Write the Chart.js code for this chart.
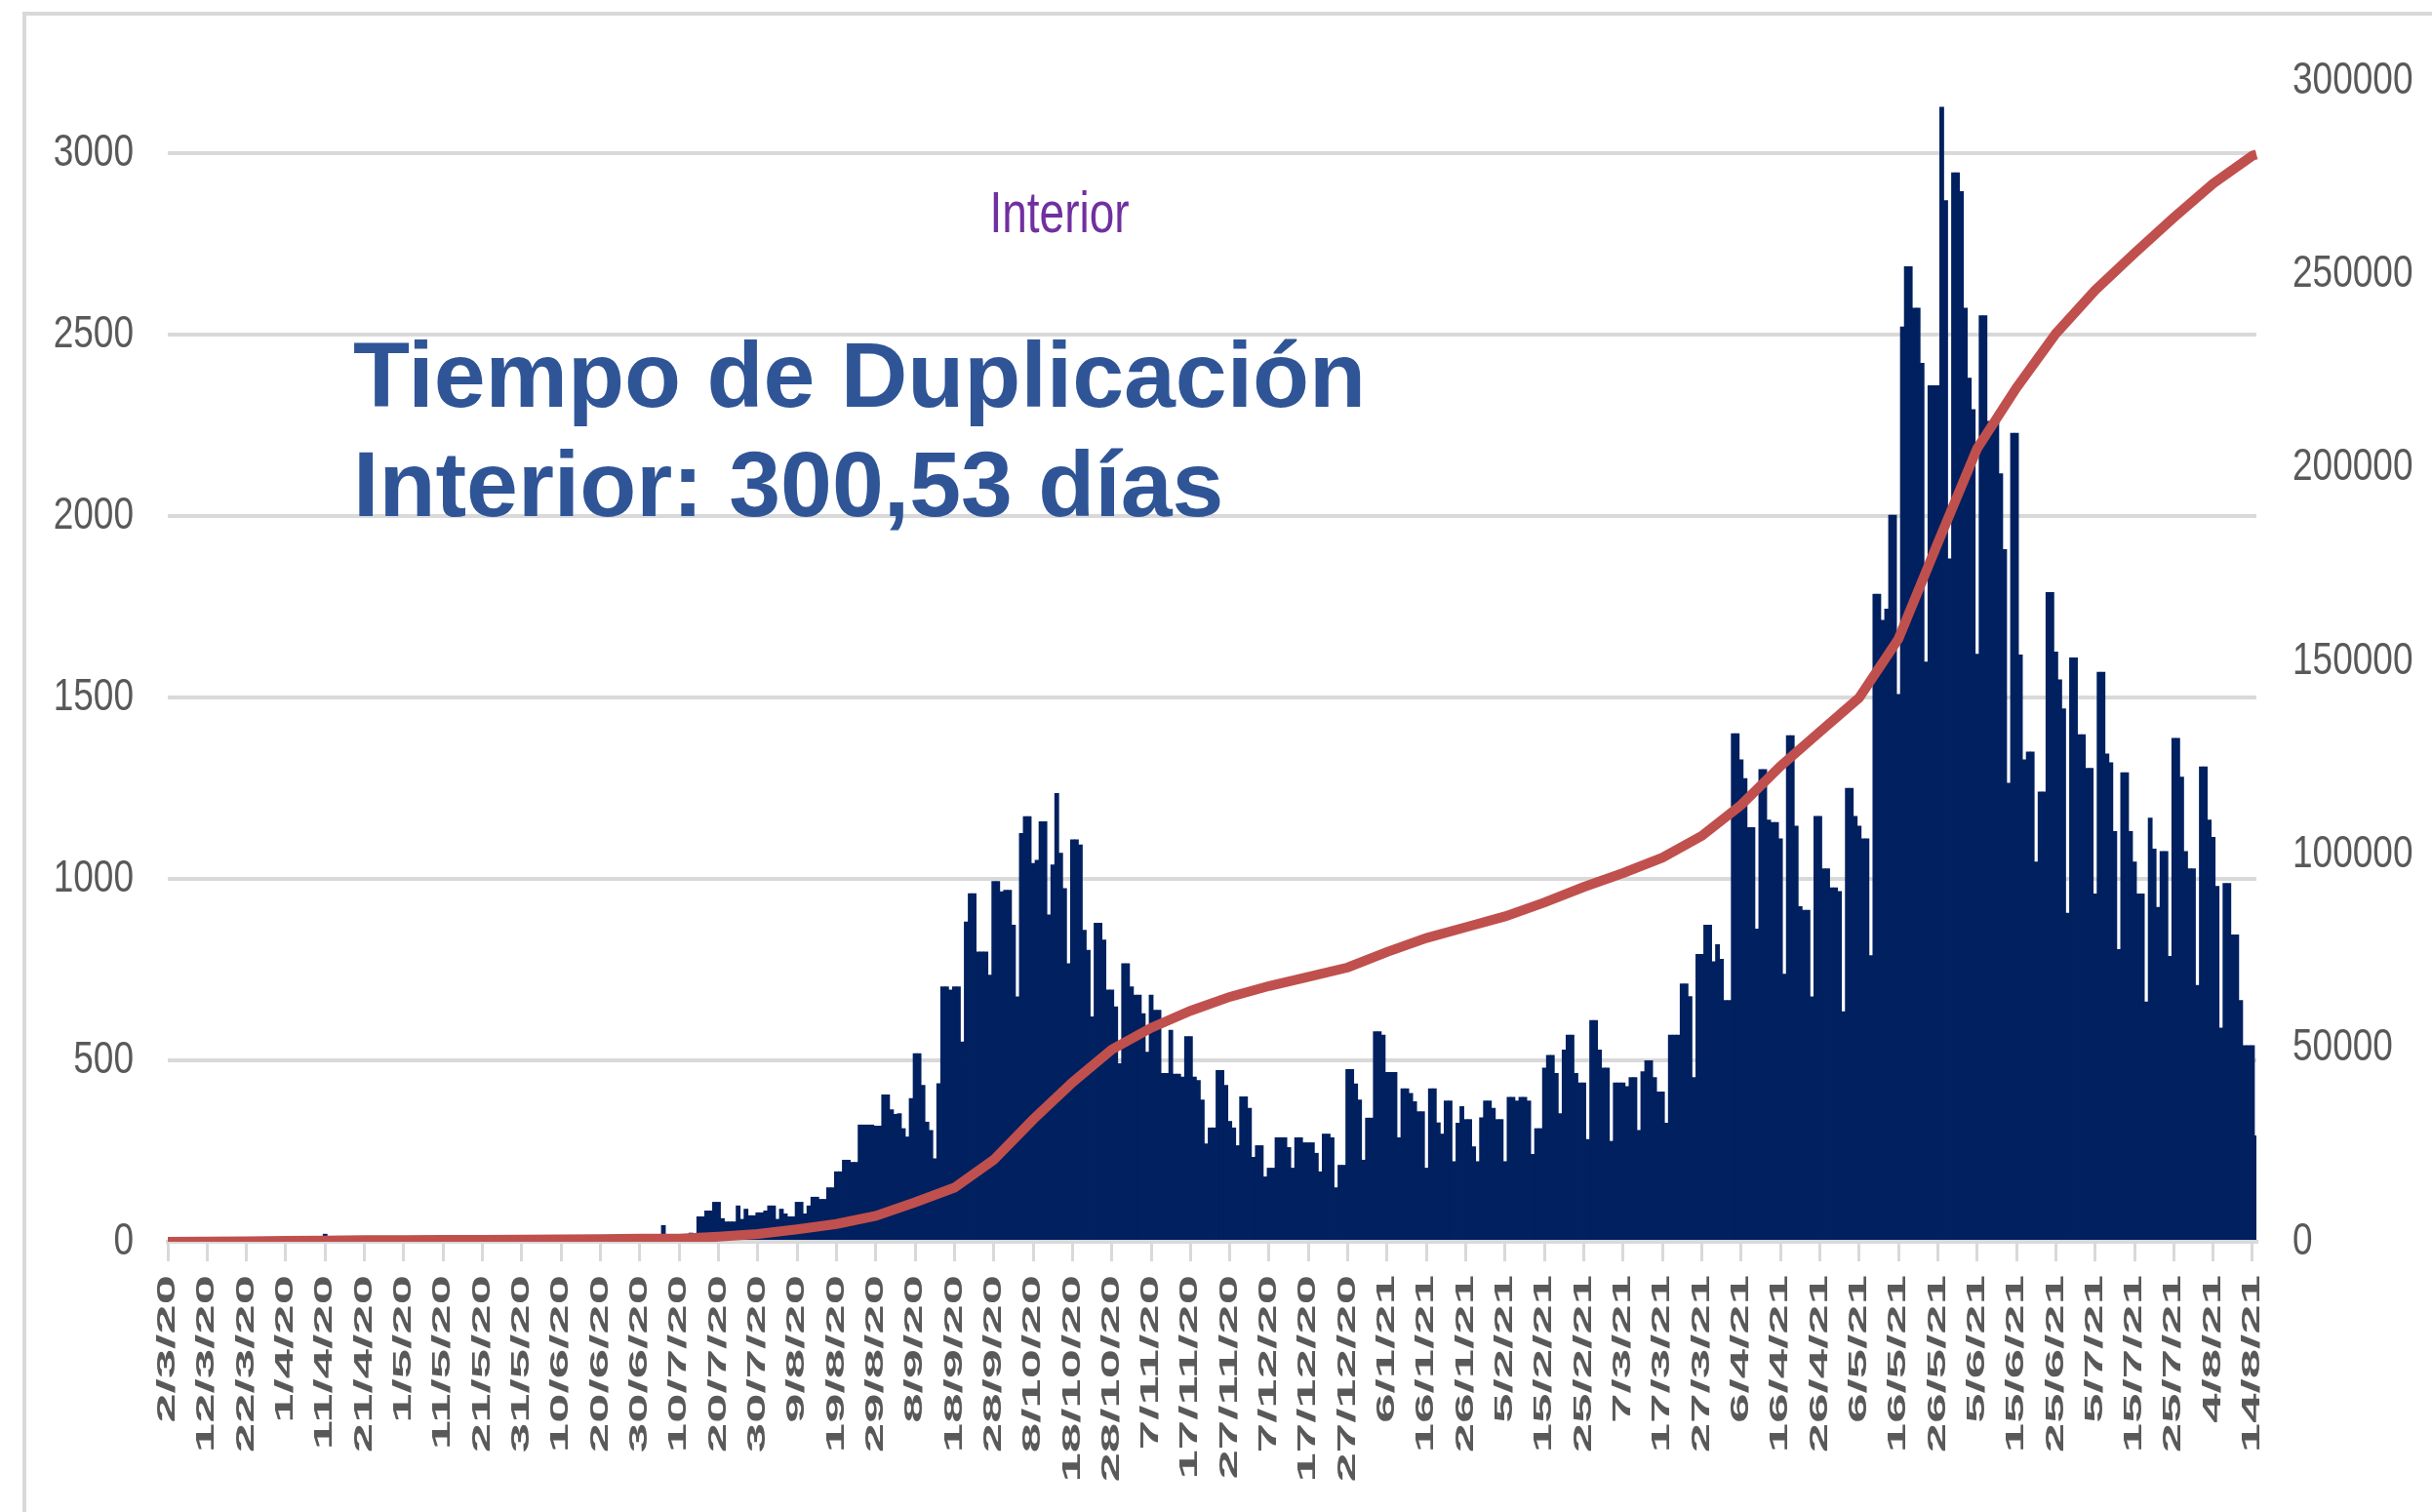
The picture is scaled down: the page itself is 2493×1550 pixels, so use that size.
<!DOCTYPE html>
<html>
<head>
<meta charset="utf-8">
<script src="https://cdn.jsdelivr.net/npm/chart.js@4.4.1/dist/chart.umd.min.js"></script>
<style>
  html, body { margin: 0; padding: 0; background: #ffffff; }
  #wrap { width: 2493px; height: 1550px; position: relative; overflow: hidden; }
</style>
</head>
<body>
<div id="wrap"><canvas id="chart" width="2493" height="1550"></canvas></div>
<script>
    // Daily new cases (one value per day, starting 2/3/20)
    const casesMarJul2020 = [
        0, 0, 1, 0, 2, 1, 3, 2, 4, 3,
        5, 4, 6, 8, 5, 7, 9, 6, 8, 10,
        7, 9, 12, 8, 10, 6, 11, 9, 7, 10,
        8, 6, 9, 12, 7, 10, 8, 11, 9, 13,
        22, 8, 6, 9, 7, 5, 8, 6, 4, 7,
        5, 3, 6, 4, 2, 5, 3, 4, 2, 3,
        2, 4, 1, 3, 2, 1, 3, 2, 1, 2,
        1, 2, 3, 1, 2, 1, 0, 2, 1, 1,
        2, 1, 3, 2, 4, 2, 3, 5, 3, 4,
        4, 6, 3, 5, 7, 4, 6, 8, 5, 9,
        7, 10, 8, 6, 12, 9, 11, 14, 8, 10,
        12, 9, 14, 11, 8, 15, 12, 10, 13, 16,
        14, 11, 9, 15, 12, 18
    ];
    const casesJulSep2020 = [
        46, 8, 12, 6, 10, 14, 9, 25, 22, 70,
        70, 86, 86, 110, 110, 65, 56, 56, 56, 100,
        63, 91, 73, 73, 81, 81, 86, 100, 100, 63,
        91, 78, 70, 70, 110, 110, 78, 100, 124, 124,
        118, 118, 150, 150, 194, 194, 226, 226, 220, 220,
        323, 323, 323, 323, 320, 320, 406, 406, 365, 352
    ];
    const casesSepNov2020 = [
        354, 313, 290, 396, 520, 520, 432, 331, 308, 230,
        437, 704, 704, 695, 704, 704, 552, 883, 961, 961,
        800, 800, 800, 736, 994, 994, 966, 970, 970, 874,
        676, 1127, 1173, 1173, 1044, 1053, 1159, 1159, 902, 1040,
        1237, 1072, 975, 768, 1109, 1109, 1095, 860, 805, 621,
        879, 879, 833, 695, 695, 649, 492, 768, 768, 704,
        681, 681, 630, 524, 681, 639, 639, 465, 465
    ];
    const casesNovJan2021 = [
        584, 463, 463, 455, 567, 567, 455, 446, 392, 271,
        315, 315, 473, 473, 432, 333, 315, 266, 401, 401,
        369, 234, 266, 266, 180, 204, 204, 288, 288, 288,
        261, 204, 288, 288, 274, 274, 274, 245, 194, 298,
        298, 288, 150, 212, 212, 476, 476, 436, 392, 226,
        342, 342, 580, 580, 571, 468, 468, 468, 288, 423,
        423, 410, 387, 360, 360, 204, 423, 423, 329
    ];
    const casesJanMar2021 = [
        298, 389, 389, 222, 328, 374, 338, 338, 263, 222,
        343, 389, 389, 369, 338, 338, 222, 399, 399, 389,
        399, 399, 389, 242, 313, 313, 480, 515, 515, 465,
        354, 530, 571, 571, 465, 439, 439, 283, 611, 611,
        530, 480, 480, 278, 439, 439, 439, 429, 454, 454,
        308, 470, 500, 500, 454, 414, 414, 328, 571, 571,
        571, 712, 712, 677, 454, 793, 793, 874, 874, 773
    ];
    const casesAprMay2021 = [
        820, 780, 666, 666, 1402, 1402, 1330, 1278, 1143, 1143,
        863, 1303, 1303, 1164, 1157, 1157, 1112, 739, 1396, 1396,
        1147, 925, 915, 915, 676, 1174, 1174, 1029, 1029, 977,
        977, 967, 635, 1251, 1251, 1174, 1147, 1112, 1112, 790,
        1786, 1786, 1714, 1745, 2004, 2004, 1510, 2523, 2689, 2689,
        2575, 2575, 2423, 1599, 2361, 2361, 2361, 3129, 2871, 1884,
        2948, 2948, 2896, 2575, 2382, 2295, 1621, 2554, 2554, 2263
    ];
    const casesJunAug2021 = [
        2262, 2262, 2118, 1909, 1265, 2230, 2230, 1619, 1330, 1351,
        1351, 1048, 1241, 1241, 1791, 1791, 1627, 1550, 1470, 907,
        1611, 1611, 1399, 1399, 1306, 1306, 960, 1571, 1571, 1346,
        1322, 1132, 807, 1294, 1294, 1132, 1048, 960, 960, 662,
        1169, 1084, 923, 1077, 1077, 788, 1389, 1389, 1282, 1077,
        1029, 1029, 708, 1310, 1310, 1164, 1116, 981, 590, 989,
        989, 847, 847, 666, 542, 542, 542, 293
    ];

    // Cumulative cases (right axis), read every 10 days
    const cumulativeDays = [0, 10, 20, 30, 40, 50, 60, 70, 80, 90, 100, 110, 120, 130, 140, 150, 160, 170, 180, 190,
        200, 210, 220, 230, 240, 250, 260, 270, 280, 290, 300, 310, 320, 330, 340, 350, 360, 370, 380, 390,
        400, 410, 420, 430, 440, 450, 460, 470, 480, 490, 500, 510, 520, 530, 531];
    const cumulativeCases = [0, 50, 150, 250, 330, 420, 470, 490, 510, 550, 600, 700, 800, 800, 1300, 2000, 3200, 4600, 6700, 10200,
        14000, 21200, 31600, 41200, 49700, 55300, 59700, 63300, 66100, 68500, 70900, 74900, 78500, 81300, 84100, 87700, 91700, 95300, 99300, 104900,
        112900, 122900, 131800, 140600, 155800, 180600, 205000, 220700, 234700, 245900, 255500, 264700, 273500, 280700, 281000];

    const leftTicks = [0, 500, 1000, 1500, 2000, 2500, 3000];
    const rightTicks = [0, 50000, 100000, 150000, 200000, 250000, 300000];

    const dailyCases = [].concat(casesMarJul2020, casesJulSep2020, casesSepNov2020,
        casesNovJan2021, casesJanMar2021, casesAprMay2021, casesJunAug2021);

    // one category per day, labelled d/m/yy
    const dayLabels = dailyCases.map((_, i) => {
        const d = new Date(Date.UTC(2020, 2, 2 + i));
        return d.getUTCDate() + '/' + (d.getUTCMonth() + 1) + '/' + String(d.getUTCFullYear()).slice(2);
    });

    const cumulativeLine = dailyCases.map(() => null);
    cumulativeDays.forEach((day, k) => { cumulativeLine[day] = cumulativeCases[k]; });

    const labelFont = '"Liberation Sans", Arial, sans-serif';

    // frame, axis labels (stretched like the original) and the overlaid texts
    const decorPlugin = {
        id: 'decor',
        beforeDraw(chart) {
            const ctx = chart.ctx;
            ctx.save();
            ctx.fillStyle = '#d9d9d9';
            ctx.fillRect(23, 12, 4, 1600);
            ctx.fillRect(23, 12, 2600, 4);
            ctx.restore();
        },
        afterDraw(chart) {
            const ctx = chart.ctx;
            const xs = chart.scales.x;
            const yl = chart.scales.y;
            const yr = chart.scales.y1;

            // date labels, every 10 days
            ctx.save();
            ctx.fillStyle = '#595959';
            ctx.font = 'bold 26px ' + labelFont;
            ctx.textAlign = 'right';
            ctx.textBaseline = 'middle';
            dayLabels.forEach((lab, i) => {
                if (i % 10 !== 0) return;
                ctx.save();
                ctx.translate(xs.getPixelForValue(i), xs.top + 34);
                ctx.rotate(-Math.PI / 2);
                ctx.scale(2.1, 1);
                ctx.fillText(lab, 0, 0);
                ctx.restore();
            });
            ctx.restore();

            // value labels on both sides
            ctx.save();
            ctx.fillStyle = '#595959';
            ctx.font = '37px ' + labelFont;
            ctx.textBaseline = 'middle';
            ctx.textAlign = 'right';
            leftTicks.forEach((v) => {
                ctx.save();
                ctx.translate(yl.right - 35, yl.getPixelForValue(v));
                ctx.scale(1, 1.25);
                ctx.fillText(String(v), 0, 0);
                ctx.restore();
            });
            ctx.textAlign = 'left';
            rightTicks.forEach((v) => {
                ctx.save();
                ctx.translate(yr.left + 37, yr.getPixelForValue(v));
                ctx.scale(1, 1.25);
                ctx.fillText(String(v), 0, 0);
                ctx.restore();
            });
            ctx.restore();

            ctx.save();
            ctx.fillStyle = '#2F5597';
            ctx.font = 'bold 95px ' + labelFont;
            ctx.textAlign = 'left';
            ctx.textBaseline = 'alphabetic';
            ctx.fillText('Tiempo de Duplicación', 362, 417);
            ctx.fillText('Interior: 300,53 días', 362, 529);

            ctx.fillStyle = '#7030A0';
            ctx.font = '46px ' + labelFont;
            ctx.textAlign = 'center';
            ctx.translate(1086, 238);
            ctx.scale(1, 1.3);
            ctx.fillText('Interior', 0, 0);
            ctx.restore();
        }
    };

    const ctx = document.getElementById('chart').getContext('2d');
    new Chart(ctx, {
        type: 'bar',
        data: {
            labels: dayLabels,
            datasets: [
                {
                    type: 'line',
                    label: 'Acumulados',
                    data: cumulativeLine,
                    yAxisID: 'y1',
                    borderColor: '#C0504D',
                    borderWidth: 10,
                    pointRadius: 0,
                    tension: 0,
                    spanGaps: true,
                    order: 0
                },
                {
                    type: 'bar',
                    label: 'Casos diarios',
                    data: dailyCases,
                    yAxisID: 'y',
                    backgroundColor: '#00205F',
                    borderWidth: 0,
                    barPercentage: 1.2,
                    categoryPercentage: 1,
                    order: 1
                }
            ]
        },
        options: {
            responsive: false,
            devicePixelRatio: 1,
            animation: false,
            events: [],
            layout: { padding: { top: 83, left: 0, right: 0, bottom: 0 } },
            plugins: {
                legend: { display: false },
                title: { display: false },
                tooltip: { enabled: false }
            },
            scales: {
                x: {
                    type: 'category',
                    offset: false,
                    grid: {
                        offset: false,
                        drawOnChartArea: false,
                        drawTicks: true,
                        tickLength: 20,
                        lineWidth: 3,
                        color: (c) => (c.index % 10 === 0 ? '#d9d9d9' : 'rgba(0,0,0,0)')
                    },
                    border: { display: true, color: '#d9d9d9', width: 4 },
                    ticks: { display: false, autoSkip: false },
                    afterFit: (s) => { s.height = 277; }
                },
                y: {
                    position: 'left',
                    min: 0,
                    max: 3200,
                    grid: { color: '#d9d9d9', lineWidth: 4, drawTicks: false },
                    border: { display: false },
                    ticks: { display: false },
                    afterBuildTicks: (s) => { s.ticks = leftTicks.map((v) => ({ value: v })); },
                    afterFit: (s) => { s.width = 172; }
                },
                y1: {
                    position: 'right',
                    min: 0,
                    max: 300000,
                    grid: { display: false, drawOnChartArea: false },
                    border: { display: false },
                    ticks: { display: false },
                    afterBuildTicks: (s) => { s.ticks = rightTicks.map((v) => ({ value: v })); },
                    afterFit: (s) => { s.width = 180; }
                }
            }
        },
        plugins: [decorPlugin]
    });
</script>
</body>
</html>
